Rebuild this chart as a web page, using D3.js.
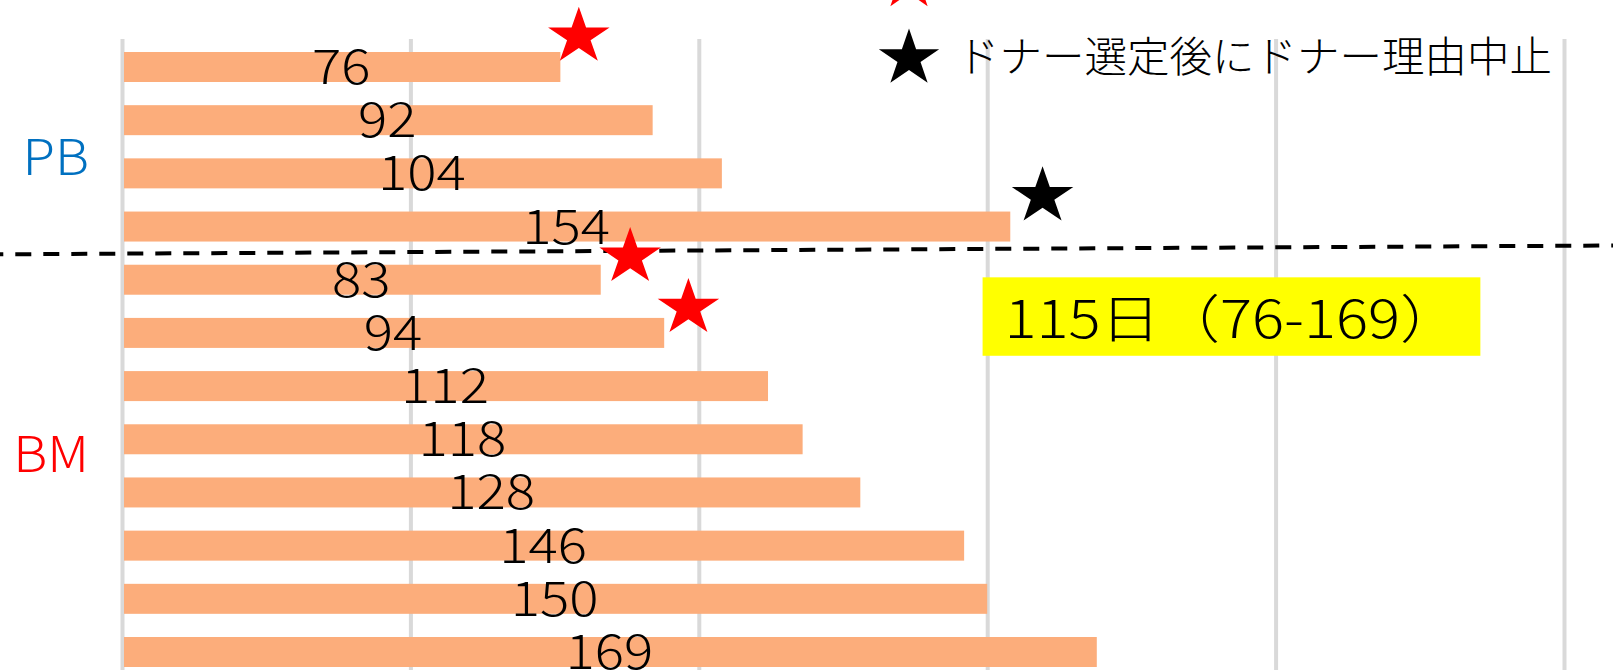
<!DOCTYPE html>
<html>
<head>
<meta charset="utf-8">
<script src="https://cdn.jsdelivr.net/npm/d3@7/dist/d3.min.js"></script>
<style>
  html, body { margin: 0; padding: 0; background: #fff; }
  svg { display: block; }
</style>
</head>
<body>
<svg id="chart" width="1613" height="670"></svg>
<script>
// ---------- data ----------
const groups = ["PB", "PB", "PB", "PB", "BM", "BM", "BM", "BM", "BM", "BM", "BM", "BM"];
const values = [76, 92, 104, 154, 83, 94, 112, 118, 128, 146, 150, 169];
const xTicks = [0, 50, 100, 150, 200, 250];

const groupNames = ["PB", "BM"];
const groupLabelRows = [1.69, 7.27];   // label position in row units

const starDays = [79.2, 159.6, 88.1, 98.2];
const starRows = [-0.57, 2.43, 3.57, 4.53];
const starKinds = ["patient", "donor", "patient", "patient"];

const legendKinds = ["patient", "donor"];
const legendLabels = ["ドナー選定後に患者理由中止", "ドナー選定後にドナー理由中止"];

const summaryText = "115日（76-169）";

// ---------- styles ----------
const FONT = "'Noto Sans CJK JP', 'Noto Sans', sans-serif";
const barColor = "#FCAD7B";
const gridColor = "#D9D9D9";
const groupColor = { PB: "#0070C0", BM: "#FF0000" };
const starColor = { patient: "#FF0000", donor: "#000000" };

// ---------- scales ----------
const svg = d3.select("#chart");
const x = d3.scaleLinear().domain([0, 250]).range([122, 1564]);
const y = d3.scaleBand().domain(d3.range(values.length)).range([52, 667]).paddingInner(0.436).paddingOuter(0);
const row = d3.scaleLinear().domain([0, 1]).range([y(0) + y.bandwidth() / 2, y(1) + y.bandwidth() / 2]);

// ---------- grid ----------
const grid = svg.append("g")
  .attr("transform", "translate(0,670)")
  .call(d3.axisBottom(x).tickValues(xTicks).tickSize(-631).tickFormat(""));
grid.select(".domain").remove();
grid.selectAll(".tick line").attr("stroke", gridColor).attr("stroke-width", 4);

// ---------- bars ----------
const x0 = x(0) + 2;
svg.append("g").selectAll("rect").data(values).join("rect")
  .attr("x", x0)
  .attr("y", (d, i) => y(i))
  .attr("width", d => x(d) - x0)
  .attr("height", y.bandwidth())
  .attr("fill", barColor);

// ---------- value labels ----------
svg.append("g").selectAll("text").data(values).join("text")
  .attr("transform", (d, i) => `translate(${x(d / 2)},${y(i) + y.bandwidth() + 2}) scale(1.14,1)`)
  .attr("text-anchor", "middle")
  .attr("font-family", FONT)
  .attr("font-weight", 300)
  .attr("font-size", 48)
  .attr("fill", "#000")
  .text(d => d);

// ---------- group labels ----------
svg.append("g").selectAll("text").data(groupNames).join("text")
  .attr("transform", (d, i) => `translate(89,${row(groupLabelRows[i])}) scale(1.06,1)`)
  .attr("dy", "0.36em")
  .attr("text-anchor", "end")
  .attr("font-family", FONT)
  .attr("font-weight", 300)
  .attr("font-size", 50)
  .attr("fill", d => groupColor[d])
  .text(d => d);

// ---------- separator ----------
svg.append("line")
  .attr("x1", 0).attr("y1", 254.3)
  .attr("x2", 1613).attr("y2", 245.5)
  .attr("stroke", "#000")
  .attr("stroke-width", 4)
  .attr("stroke-dasharray", "16 12")
  .attr("stroke-dashoffset", 12.7);

// ---------- stars ----------
const starPath = d3.symbol(d3.symbolStar, 30.5 * 30.5 / 0.8908130915292852)();
svg.append("g").selectAll("path").data(starDays).join("path")
  .attr("d", starPath)
  .attr("transform", (d, i) => `translate(${x(d)},${row(starRows[i])}) scale(1.06,0.98)`)
  .attr("fill", (d, i) => starColor[starKinds[i]]);

// ---------- summary box ----------
const bx0 = x(149.2), bx1 = x(235.5), by0 = row(3.955), by1 = row(5.43);
svg.append("rect")
  .attr("x", bx0).attr("y", by0)
  .attr("width", bx1 - bx0).attr("height", by1 - by0)
  .attr("fill", "#FFFF00");
svg.append("text")
  .attr("transform", `translate(${bx0 + 22},${by1 - 18}) scale(1.15,1)`)
  .attr("font-family", FONT)
  .attr("font-weight", 300)
  .attr("font-size", 52)
  .attr("fill", "#000")
  .text(summaryText);

// ---------- legend ----------
const legend = svg.append("g");
const legendY = [-18, 58.5];
legend.selectAll("path").data(legendKinds).join("path")
  .attr("d", starPath)
  .attr("transform", (d, i) => `translate(909,${legendY[i]}) scale(1.04,0.98)`)
  .attr("fill", d => starColor[d]);
legend.selectAll("text").data(legendLabels).join("text")
  .attr("x", 957)
  .attr("y", (d, i) => legendY[i] - 5)
  .attr("dominant-baseline", "central")
  .attr("font-family", FONT)
  .attr("font-weight", 300)
  .attr("font-size", 42.5)
  .attr("fill", "#000")
  .text(d => d);
</script>
</body>
</html>
